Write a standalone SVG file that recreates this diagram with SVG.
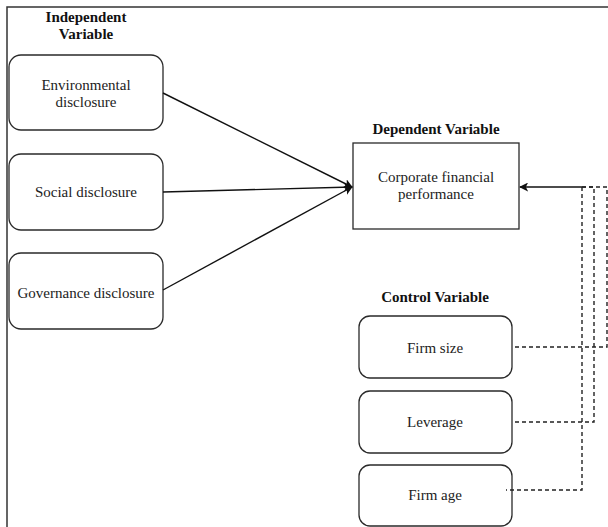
<svg xmlns="http://www.w3.org/2000/svg" width="608" height="527" viewBox="0 0 608 527">
<style>
.bg{fill:#ffffff}
.frame{fill:none;stroke:#333;stroke-width:1.5}
.box{fill:#ffffff;stroke:#2a2a2a;stroke-width:1.3}
.t{font-family:"Liberation Serif","Times New Roman",serif;font-size:15px;fill:#222;text-anchor:middle}
.h{font-family:"Liberation Serif","Times New Roman",serif;font-size:15px;font-weight:bold;fill:#111;text-anchor:middle}
.edge{fill:none;stroke:#111;stroke-width:1.4}
.dash{fill:none;stroke:#222;stroke-width:1.4;stroke-dasharray:4 3}
</style>
<defs>
<marker id="arr" viewBox="0 0 10 10" refX="9" refY="5" markerWidth="9" markerHeight="9" markerUnits="userSpaceOnUse" orient="auto">
<path d="M0,0 L10,5 L0,10 L2.5,5 Z" fill="#111"/>
</marker>
</defs>
<rect class="bg" x="0" y="0" width="608" height="527"/>
<path class="frame" d="M7,527 V7 H608"/>
<g id="labels">
<text class="h" x="86" y="22">Independent</text>
<text class="h" x="86" y="39">Variable</text>
<text class="h" x="436" y="134">Dependent Variable</text>
<text class="h" x="435" y="302">Control Variable</text>
</g>
<g id="n-env">
<rect class="box" x="9" y="55" width="154" height="75" rx="12"/>
<text class="t" x="86" y="90">Environmental</text>
<text class="t" x="86" y="107">disclosure</text>
</g>
<g id="n-soc">
<rect class="box" x="9" y="154" width="154" height="76" rx="12"/>
<text class="t" x="86" y="197">Social disclosure</text>
</g>
<g id="n-gov">
<rect class="box" x="9" y="253" width="154" height="76" rx="12"/>
<text class="t" x="86" y="298">Governance disclosure</text>
</g>
<g id="n-cfp">
<rect class="box" x="353" y="143" width="166" height="86"/>
<text class="t" x="436" y="182">Corporate financial</text>
<text class="t" x="436" y="199">performance</text>
</g>
<g id="n-size">
<rect class="box" x="359" y="316" width="153" height="62" rx="11"/>
<text class="t" x="435" y="353">Firm size</text>
</g>
<g id="n-lev">
<rect class="box" x="359" y="391" width="153" height="62" rx="11"/>
<text class="t" x="435" y="427">Leverage</text>
</g>
<g id="n-age">
<rect class="box" x="359" y="465" width="153" height="61" rx="11"/>
<text class="t" x="435" y="500">Firm age</text>
</g>
<g id="connectors">
<path class="edge" d="M163,93 L352,187" marker-end="url(#arr)"/>
<path class="edge" d="M163,192 L352,187" marker-end="url(#arr)"/>
<path class="edge" d="M163,290 L352,187" marker-end="url(#arr)"/>
<path class="edge" d="M582,187 L520,187" marker-end="url(#arr)"/>
<path class="dash" d="M582,187 H607 V347 H512"/>
<path class="dash" d="M582,187 H594 V422 H512"/>
<path class="dash" d="M582,187 V490 H506"/>
</g>
</svg>
